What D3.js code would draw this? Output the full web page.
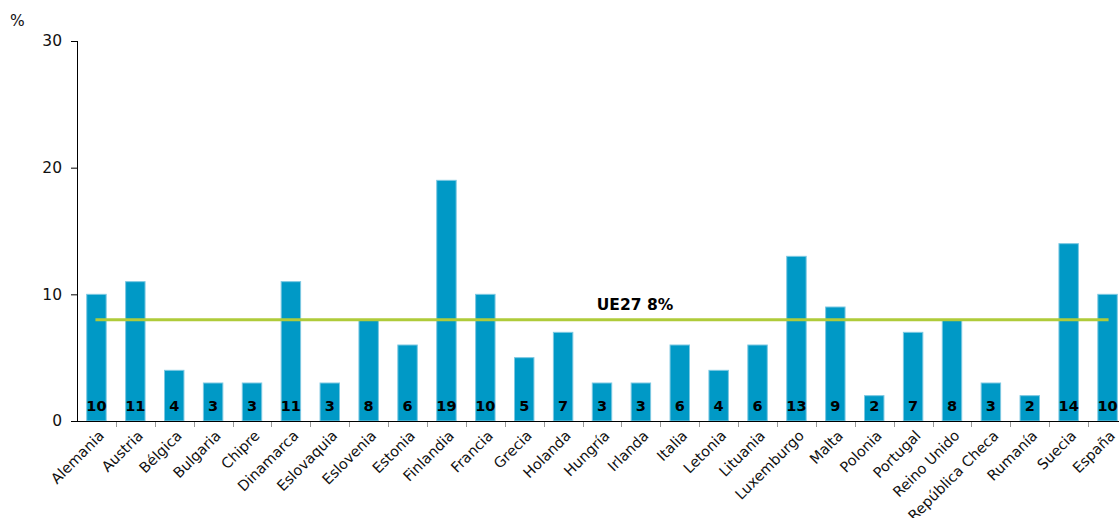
<!DOCTYPE html>
<html><head><meta charset="utf-8">
<script src="https://cdn.jsdelivr.net/npm/d3@7"></script>
<style>body{margin:0;background:#fff;}svg{display:block;font-family:"DejaVu Sans",Verdana,sans-serif;}</style>
</head><body>
<svg id="chart" width="1119" height="518"></svg>
<script>
const categories = ["Alemania","Austria","Bélgica","Bulgaria","Chipre","Dinamarca","Eslovaquia","Eslovenia","Estonia","Finlandia","Francia","Grecia","Holanda","Hungría","Irlanda","Italia","Letonia","Lituania","Luxemburgo","Malta","Polonia","Portugal","Reino Unido","República Checa","Rumanía","Suecia","España"];
const values = [10,11,4,3,3,11,3,8,6,19,10,5,7,3,3,6,4,6,13,9,2,7,8,3,2,14,10];
const yTicks = [0,10,20,30];
const euAverage = 8;
const euLabel = "UE27 8%";
const unitLabel = "%";

const svg = d3.select("#chart");
const x0 = 77, x1 = 1127, yTop = 41, yBot = 421;
const x = d3.scaleBand().domain(categories).range([x0, x1]).paddingInner(0.5).paddingOuter(0.25);
const y = d3.scaleLinear().domain([0, 30]).range([yBot, yTop]);

// bars
svg.append("g").selectAll("rect").data(values).join("rect")
  .attr("x", (d,i) => x(categories[i]))
  .attr("y", d => y(d))
  .attr("width", x.bandwidth())
  .attr("height", d => y(0) - y(d))
  .attr("fill", "#0099c6")
  .attr("stroke", "#7cc8e2")
  .attr("stroke-width", 1);

// average line
const cx = c => x(c) + x.bandwidth()/2;
svg.append("line")
  .attr("x1", cx(categories[0]) - 1).attr("x2", cx(categories[categories.length-1]) + 1)
  .attr("y1", y(euAverage)).attr("y2", y(euAverage))
  .attr("stroke", "#afcb3a").attr("stroke-width", 3);
svg.append("text").attr("x", 635).attr("y", y(euAverage) - 10)
  .attr("text-anchor", "middle").attr("font-weight", "bold").attr("font-size", 15.5)
  .attr("fill", "#000").text(euLabel);

// value labels
svg.append("g").selectAll("text").data(values).join("text")
  .attr("x", (d,i) => cx(categories[i]))
  .attr("y", y(0) - 10)
  .attr("text-anchor", "middle").attr("font-weight", "bold").attr("font-size", 14.5)
  .attr("fill", "#000").text(d => d);

// y axis
const yAxis = d3.axisLeft(y).tickValues(yTicks).tickSize(6).tickPadding(9);
const gy = svg.append("g").attr("transform", `translate(${x0},0)`).call(yAxis);
gy.select(".domain").attr("stroke", "#000").attr("d", `M0.5,${yTop}V${yBot}`);
gy.selectAll(".tick line").attr("stroke", "#000");
gy.selectAll(".tick text").attr("font-size", 15.5).attr("fill", "#111").attr("font-family", "DejaVu Sans, sans-serif");

// x axis
const gx = svg.append("g").attr("transform", `translate(0,${yBot})`);
gx.append("line").attr("x1", x0).attr("x2", 1119).attr("y1", 0.5).attr("y2", 0.5).attr("stroke", "#000");
const bounds = categories.map((c,i) => x0 + x.step()*(i+1));
gx.selectAll(".sep").data(bounds).join("line").attr("class","sep")
  .attr("x1", d => Math.round(d)+0.5).attr("x2", d => Math.round(d)+0.5)
  .attr("y1", 1).attr("y2", 6).attr("stroke", "#999");
gx.selectAll(".lbl").data(categories).join("text").attr("class","lbl")
  .attr("transform", d => `translate(${cx(d)+5},${12}) rotate(-45)`)
  .attr("text-anchor", "end").attr("font-size", 14.5).attr("fill", "#111")
  .attr("dy", "0.35em").text(d => d);

svg.append("text").attr("x", 10).attr("y", 26).attr("font-size", 15.5).attr("fill", "#111").text(unitLabel);
</script>
</body></html>
